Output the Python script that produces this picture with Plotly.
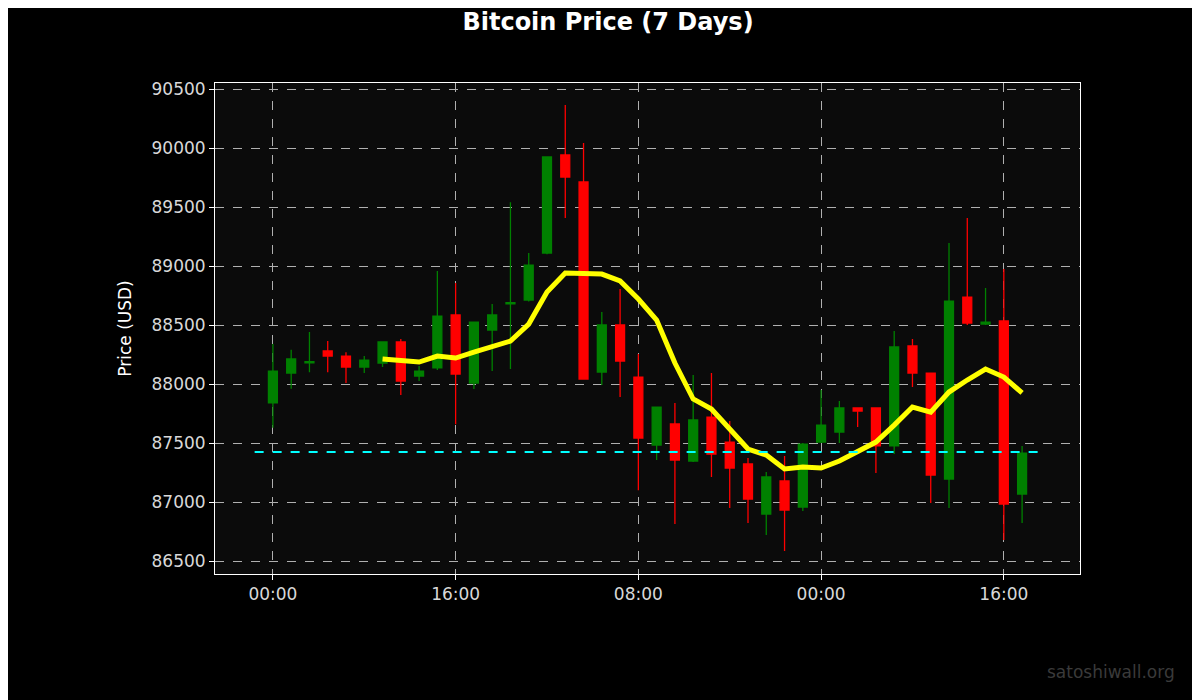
import datetime
import plotly.graph_objects as go

start = datetime.datetime(2025, 1, 1, 0, 0)
step = datetime.timedelta(minutes=96)

opens = [87840, 88093, 88180, 88280, 88237, 88144, 88178, 88356, 88068, 88136,
         88585, 88008, 88458, 88680, 88712, 89110, 89941, 89712, 88102, 88500,
         88059, 87483, 87661, 87347, 87720, 87508, 87322, 86898, 87178, 86958,
         87508, 87593, 87797, 87797, 87475, 88322, 88093, 87195, 88737, 88508,
         88534, 87068]
highs = [88340, 88290, 88440, 88365, 88270, 88237, 88360, 88381, 88152, 88958,
         88856, 88525, 88678, 89540, 89110, 89924, 90364, 90042, 88610, 88805,
         88254, 87810, 87839, 88076, 88093, 87686, 87373, 87254, 87390, 87500,
         87949, 87856, 87800, 87800, 88449, 88381, 88095, 89195, 89407, 88814,
         88975, 87475]
lows = [87630, 87960, 88100, 88100, 88008, 88093, 88144, 87907, 88025, 88119,
        87660, 87958, 88110, 88127, 88700, 89100, 89407, 88042, 87992, 87890,
        87100, 87356, 86813, 87340, 87212, 86949, 86822, 86720, 86585, 86924,
        87500, 87500, 87635, 87246, 87407, 87975, 86991, 86949, 88500, 88500,
        86678, 86822]
closes = [88110, 88212, 88190, 88237, 88144, 88203, 88356, 88025, 88110, 88576,
          88085, 88525, 88585, 88690, 89008, 89924, 89754, 88042, 88500, 88195,
          87542, 87805, 87356, 87695, 87407, 87288, 87025, 87212, 86932, 87491,
          87652, 87797, 87771, 87475, 88314, 88093, 87229, 88703, 88517, 88525,
          86983, 87415]
# moving average, starts at the 7th candle
ma_values = [88212, 88203, 88186, 88237, 88220, 88271, 88322, 88364, 88508, 88780,
             88941, 88932, 88932, 88873, 88720, 88542, 88178, 87873, 87788, 87619,
             87449, 87398, 87280, 87297, 87288, 87347, 87432, 87508, 87652, 87805,
             87762, 87932, 88034, 88127, 88059, 87924]
avg_price = 87424

times = [start + i * step for i in range(len(opens))]
ma_times = times[len(times) - len(ma_values):]
pad = datetime.timedelta(hours=5.07)
hline_x = [times[0] - datetime.timedelta(hours=1.6), times[-1] + datetime.timedelta(hours=1.4)]

fig = go.Figure()
fig.add_trace(go.Candlestick(
    x=times, open=opens, high=highs, low=lows, close=closes,
    increasing=dict(line=dict(color="#008000", width=1.3), fillcolor="#008000"),
    decreasing=dict(line=dict(color="#ff0000", width=1.3), fillcolor="#ff0000"),
    whiskerwidth=0, showlegend=False,
))
fig.add_trace(go.Scatter(x=ma_times, y=ma_values, mode="lines",
                         line=dict(color="#ffff00", width=5), showlegend=False))
fig.add_trace(go.Scatter(x=hline_x, y=[avg_price, avg_price], mode="lines",
                         line=dict(color="#00ffff", width=2, dash="dash"), showlegend=False))

axis_common = dict(showgrid=True, gridcolor="#b0b0b0", griddash="dash", gridwidth=1,
                   showline=True, linecolor="#ffffff", mirror=True, zeroline=False,
                   ticks="outside", tickcolor="#ffffff",
                   tickfont=dict(color="#d8d8d8", size=17, family="DejaVu Sans"))

fig.update_layout(
    width=1200, height=700,
    paper_bgcolor="#000000", plot_bgcolor="#0b0b0b",
    margin=dict(l=207, r=128, t=75, b=134),
    title=dict(text="<b>Bitcoin Price (7 Days)</b>", x=0.5, y=0.993, yanchor="top",
               xanchor="center", pad=dict(t=0),
               font=dict(color="#ffffff", size=24, family="DejaVu Sans")),
    xaxis=dict(axis_common, range=[times[0] - pad, times[-1] + pad], rangeslider=dict(visible=False),
               tickformat="%H:%M", dtick=16 * 3600000, tick0=start),
    yaxis=dict(axis_common, range=[86390, 90551], dtick=500, tickformat="d",
               title=dict(text="Price (USD)", font=dict(color="#ffffff", size=17, family="DejaVu Sans"))),
    annotations=[dict(text="satoshiwall.org", xref="paper", yref="paper", x=1.112, y=-0.2,
                      xanchor="right", yanchor="middle", showarrow=False,
                      font=dict(color="#3a3a3a", size=17, family="DejaVu Sans"))],
)

fig.write_html("out.html")
